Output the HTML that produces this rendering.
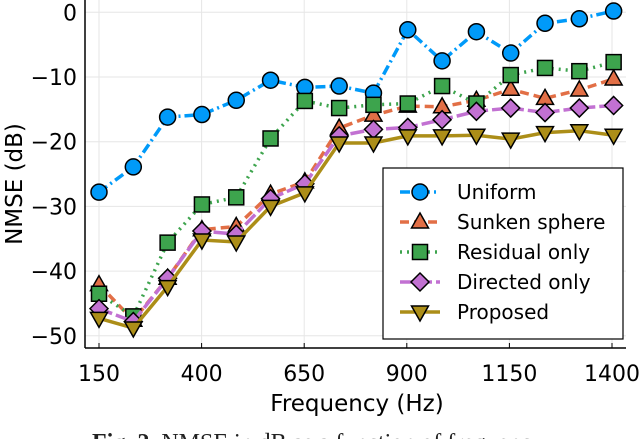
<!DOCTYPE html>
<html><head><meta charset="utf-8"><style>
html,body{margin:0;padding:0;background:#fff;}
svg{display:block;font-family:"DejaVu Sans","Liberation Sans",sans-serif;}
</style></head><body>
<svg id="chart" width="640" height="439" viewBox="0 0 640 439" xmlns="http://www.w3.org/2000/svg">
<g id="grid"></g>
<g id="series"></g>
<g id="axes"></g>
<g id="legend"></g>
<text x="357" y="411" font-size="23" text-anchor="middle">Frequency (Hz)</text>
<text transform="translate(22,184) rotate(-90)" font-size="23" text-anchor="middle">NMSE (dB)</text>
<text x="92" y="450" font-size="24" font-family="Liberation Serif, serif" fill="#222"><tspan font-weight="bold">Fig. 2.</tspan> NMSE in dB as a function of frequency.</text>
</svg>
<script>
const freqs = [150,233.6,317.2,400.8,484.4,568,651.6,735.2,818.8,902.4,986,1069.6,1153.2,1236.8,1320.4,1404];
const xTicks = [150,400,650,900,1150,1400];
const yTicks = [0,-10,-20,-30,-40,-50];
const uniform = [-27.8,-23.9,-16.2,-15.8,-13.6,-10.5,-11.6,-11.4,-12.5,-2.7,-7.5,-3.0,-6.3,-1.7,-1.0,0.2];
const sunken = [-42.1,-47.6,-41.1,-33.6,-33.1,-28.1,-26.2,-17.9,-15.9,-14.5,-14.6,-13.6,-11.9,-13.3,-12.0,-10.3];
const residual = [-43.5,-47.0,-35.6,-29.7,-28.6,-19.5,-13.7,-14.8,-14.3,-14.1,-11.4,-14.1,-9.7,-8.6,-9.1,-7.7];
const directed = [-45.8,-47.8,-41.1,-33.8,-34.3,-28.8,-26.5,-19.1,-18.1,-17.8,-16.6,-15.3,-14.8,-15.5,-14.8,-14.4];
const proposed = [-47.3,-48.8,-42.4,-35.2,-35.5,-30.0,-27.9,-20.2,-20.2,-19.1,-19.1,-19.0,-19.6,-18.6,-18.3,-19.0];
const seriesNames = ["Uniform","Sunken sphere","Residual only","Directed only","Proposed"];

const NS="http://www.w3.org/2000/svg";
const X0=85,X1=626,Y0=0,Y1=348;
function xs(f){return 99+(f-150)*(612-99)/1250;}
function ys(v){return 12.3-v*6.47;}
function mk(tag,attrs,parent){const e=document.createElementNS(NS,tag);for(const k in attrs)e.setAttribute(k,attrs[k]);parent.appendChild(e);return e;}
const grid=document.getElementById('grid'),axes=document.getElementById('axes'),ser=document.getElementById('series'),leg=document.getElementById('legend');
xTicks.forEach(t=>{
 const l=mk('line',{x1:xs(t),x2:xs(t),y1:Y0,y2:Y1,stroke:'#e6e6e6','stroke-width':1},grid);
 
 
 const tk=mk('line',{x1:xs(t),x2:xs(t),y1:Y1,y2:Y1-5,stroke:'#000','stroke-width':1},axes);
 
 
 const tx=mk('text',{x:xs(t),y:381,'font-size':22,'text-anchor':'middle'},axes);
 tx.textContent=t;
 
 
});
yTicks.forEach(t=>{
 const l=mk('line',{x1:X0,x2:X1,y1:ys(t),y2:ys(t),stroke:'#e6e6e6','stroke-width':1},grid);
 
 
 const tx=mk('text',{x:77,y:ys(t)+8,'font-size':22,'text-anchor':'end'},axes);
 tx.textContent=t<0?'\u2212'+(-t):String(t);
 
 
});
const ax1=mk('line',{x1:X0,x2:X0,y1:Y0,y2:Y1,stroke:'#000','stroke-width':1.5},axes);


const ax2=mk('line',{x1:X0,x2:X1,y1:Y1,y2:Y1,stroke:'#000','stroke-width':1.5},axes);



const styles=[
 {data:uniform,color:'#009af9',dash:'10 4 2 4',shape:'circle',key:'uniform'},
 {data:sunken,color:'#e26f46',dash:'9 5',shape:'tri',key:'sunken-sphere'},
 {data:residual,color:'#3da44d',dash:'2 5',shape:'square',key:'residual-only'},
 {data:directed,color:'#c271d2',dash:'14 4',shape:'diamond',key:'directed-only'},
 {data:proposed,color:'#ac8e18',dash:'',shape:'tridown',key:'proposed'}
];
function marker(shape,x,y,color,parent){
 const a={fill:color,stroke:'#000','stroke-width':1.5};
 let e;
 if(shape==='circle'){e=mk('circle',Object.assign({cx:x,cy:y,r:8},a),parent);}
 else if(shape==='square'){e=mk('rect',Object.assign({x:x-7.5,y:y-7.5,width:15,height:15},a),parent);}
 else if(shape==='tri'){e=mk('polygon',Object.assign({points:`${x},${y-9} ${x+8.5},${y+6} ${x-8.5},${y+6}`},a),parent);}
 else if(shape==='tridown'){e=mk('polygon',Object.assign({points:`${x},${y+9} ${x+8.5},${y-6} ${x-8.5},${y-6}`},a),parent);}
 else {e=mk('polygon',Object.assign({points:`${x},${y-9} ${x+9},${y} ${x},${y+9} ${x-9},${y}`},a),parent);}
 return e;
}
styles.forEach(s=>{
 const g=mk('g',{},ser);
 
 
 const pts=s.data.map((v,i)=>xs(freqs[i])+','+ys(v)).join(' ');
 const pl=mk('polyline',{points:pts,fill:'none',stroke:s.color,'stroke-width':3.5,'stroke-dasharray':s.dash},g);
 
 
 s.data.forEach((v,i)=>{
  const m=marker(s.shape,xs(freqs[i]),ys(v),s.color,g);
  
  
 });
});
const box=mk('rect',{x:383,y:168,width:240,height:171,fill:'#fff',stroke:'#000','stroke-width':1.2},leg);


styles.forEach((s,i)=>{
 const y=192+i*30;
 const g=mk('g',{},leg);
 
 
 mk('line',{x1:400,x2:440,y1:y,y2:y,stroke:s.color,'stroke-width':3.5,'stroke-dasharray':s.dash},g);
 marker(s.shape,420,y,s.color,g);
 const t=mk('text',{x:457,y:y+7,'font-size':20},g);
 t.textContent=seriesNames[i];
});
</script>
</body></html>
